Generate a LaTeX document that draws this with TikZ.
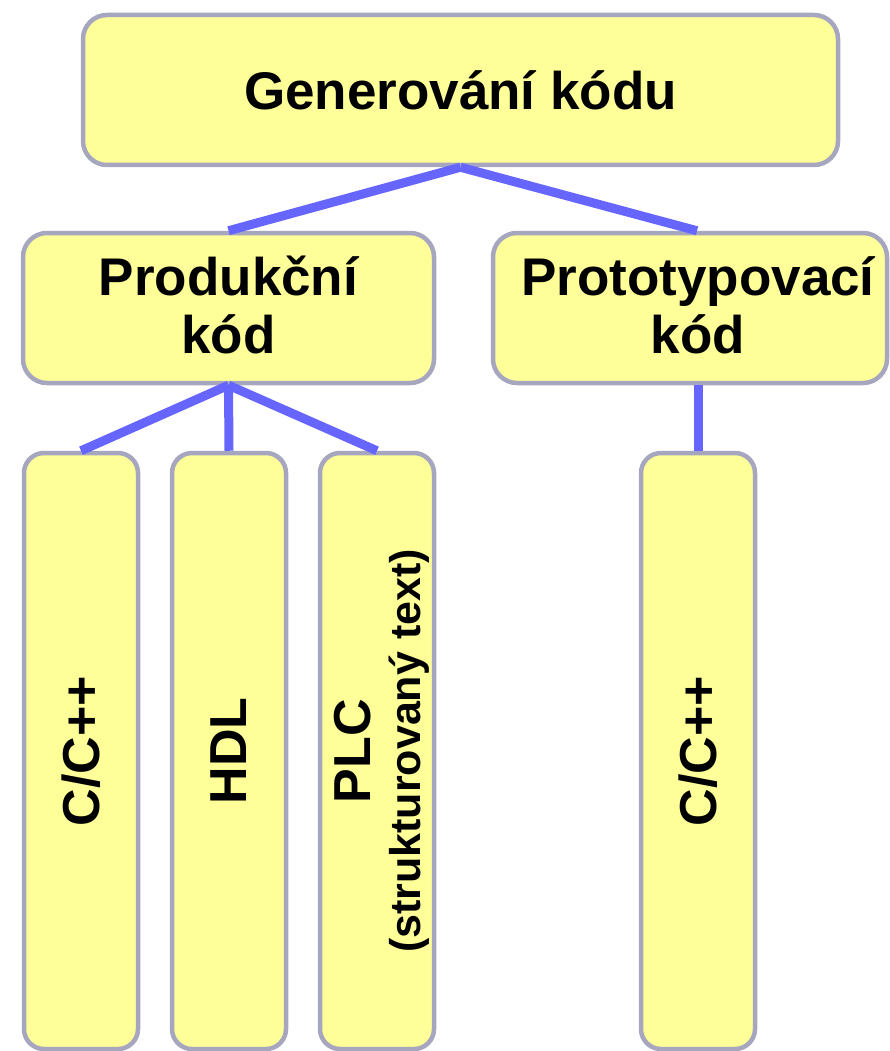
\documentclass[tikz,border=0pt]{standalone}
\usepackage{fontspec}
\setmainfont{Liberation Sans}
\usepackage{graphicx}
\definecolor{boxfill}{HTML}{FFFF99}
\definecolor{boxline}{HTML}{A6A6BF}
\definecolor{linkc}{HTML}{6666FF}
\begin{document}
\begin{tikzpicture}[x=1pt,y=-1pt,
  box/.style={draw=boxline, line width=4.5pt, fill=boxfill, rounded corners=24pt,
    inner sep=0pt, font=\bfseries\fontsize{53}{58}\selectfont},
  tallbox/.style={box, rounded corners=20pt, minimum width=114pt, minimum height=596pt,
    font=\bfseries\fontsize{52}{56}\selectfont},
  link/.style={draw=linkc, line width=9pt}]
\useasboundingbox (0,0) rectangle (890,1051);
\node[box, minimum width=755pt, minimum height=150pt] (gen) at (460.5,90) {Generování kódu};
\node[box, minimum width=411pt, minimum height=150pt] (prod) at (228.5,308)
  {\begin{tabular}{@{}c@{}}\rule{0pt}{50pt}Produkční\\kód\end{tabular}};
\node[box, minimum width=394pt, minimum height=150pt] (proto) at (690,308)
  {\kern8pt\begin{tabular}{@{}c@{}}\rule{0pt}{50pt}Prototypovací\\kód\end{tabular}\kern-8pt};
\node[tallbox] (c1) at (81,751) {\rotatebox{90}{C/C++}};
\node[tallbox] (hdl) at (229,751) {\rotatebox{90}{HDL}};
\node[tallbox] (plc) at (377,751) {\kern8pt\rotatebox{90}{\fontsize{43}{50}\selectfont\begin{tabular}{@{}c@{}}\fontsize{52}{56}\selectfont PLC\\\fontsize{43}{50}\selectfont(strukturovaný text)\end{tabular}}\kern-8pt};
\node[tallbox] (c2) at (698,751) {\rotatebox{90}{C/C++}};
\draw[link] (gen.south) -- (prod.north);
\draw[link] (gen.south) -- ([xshift=7pt]proto.north);
\draw[link] (prod.south) -- (c1.north);
\draw[link] (prod.south) -- (hdl.north);
\draw[link] (prod.south) -- (plc.north);
\draw[link] (c2.north |- proto.south) -- (c2.north);
\end{tikzpicture}
\end{document}
